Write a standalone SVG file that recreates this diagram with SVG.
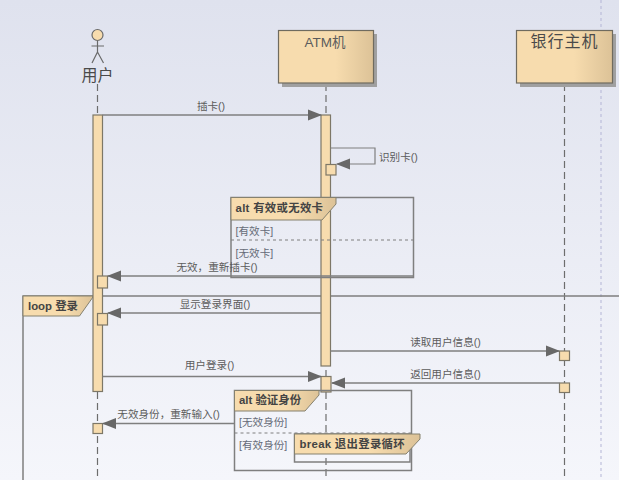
<svg xmlns="http://www.w3.org/2000/svg" width="619" height="480" viewBox="0 0 619 480">
<defs>
<linearGradient id="bg" x1="0" y1="0" x2="0" y2="1"><stop offset="0" stop-color="#dfe2ee"/><stop offset="1" stop-color="#f5f6fb"/></linearGradient>
<linearGradient id="box" x1="0" y1="0" x2="1" y2="0"><stop offset="0" stop-color="#f7dcae"/><stop offset="0.6" stop-color="#f7dcae"/><stop offset="1" stop-color="#dcc297"/></linearGradient>
<marker id="ah" markerUnits="userSpaceOnUse" markerWidth="14" markerHeight="12" refX="13" refY="6" orient="auto"><path d="M0 0.500L14 6L0 11.500Z" fill="#686868"/></marker>
</defs>
<style>
text{font-family:"Liberation Sans","Noto Sans CJK SC",sans-serif;fill:#5c5c5c}
.m{font-size:10.600px;text-anchor:middle}
.g{font-size:10.600px;fill:#666b78}
.f{font-size:11.400px;font-weight:bold;fill:#444}
.h{font-size:16px;fill:#4a4a4a}
.ll{fill:none;stroke:#6d6d6d;stroke-width:1.200;stroke-dasharray:7 4}
.a{fill:#f7dcae;stroke:#7d7767;stroke-width:1.200}
.msg{fill:none;stroke:#7f7f7f;stroke-width:1.500;marker-end:url(#ah)}
.fr{fill:none;stroke:#7f7f7f;stroke-width:1.500}
.tab{fill:url(#box);stroke:#85816f;stroke-width:1}
.sh{fill:#a0a0a0}
.b{fill:url(#box);stroke:#6f6b5f;stroke-width:1.200}
</style>
<rect width="619" height="480" fill="url(#bg)"/>
<line x1="601" y1="0" x2="601" y2="480" stroke="#b4b5d6" stroke-width="1" stroke-dasharray="3 3"/>

<g id="lifelines">
<line class="ll" x1="97.500" y1="84" x2="97.500" y2="480"/>
<line class="ll" x1="326" y1="84" x2="326" y2="480"/>
<line class="ll" x1="564.500" y1="84" x2="564.500" y2="480"/>
</g>

<g id="user">
<circle cx="97.500" cy="35" r="5.500" fill="#f7dcae" stroke="#6a6a6a" stroke-width="1.200"/>
<path d="M97.500 41V52M91.500 46H104M97.500 52L92 63M97.500 52L103.500 63" fill="none" stroke="#6a6a6a" stroke-width="1.200"/>
<text class="h" x="97.500" y="81" text-anchor="middle">用户</text>
</g>
<g id="atm">
<rect class="sh" x="282" y="34" width="95" height="53"/>
<rect class="b" x="278.500" y="30.500" width="95" height="52.500"/>
<text x="325" y="47" text-anchor="middle" font-size="13.500">ATM机</text>
</g>
<g id="bank">
<rect class="sh" x="520" y="34" width="96" height="53"/>
<rect class="b" x="516.500" y="30.500" width="96" height="52.500"/>
<text class="h" x="564.500" y="47" text-anchor="middle" letter-spacing="1">银行主机</text>
</g>

<g id="loop-frame">
<path class="fr" d="M23 480V296H619"/>
<path class="tab" d="M23 296H93V297L79.500 316H23Z"/>
<text class="f" x="28" y="310">loop 登录</text>
</g>

<g id="user-activation">
<rect class="a" x="93" y="115" width="9.500" height="276.500"/>
<rect class="a" x="97.500" y="276" width="10" height="12"/>
<rect class="a" x="97.500" y="313.500" width="10" height="11.500"/>
<rect class="a" x="93" y="423.500" width="9.500" height="10"/>
</g>
<g id="atm-activation">
<rect class="a" x="321" y="115" width="9.500" height="251"/>
<rect class="a" x="326" y="164.500" width="10" height="10.500"/>
<rect class="a" x="321" y="376.500" width="10" height="15.500"/>
</g>
<g id="bank-activation">
<rect class="a" x="559.500" y="351" width="10" height="9.500"/>
<rect class="a" x="559.500" y="383" width="10" height="9.500"/>
</g>

<g id="alt-card">
<path class="fr" d="M231 197.500H413.500V277.500H231Z"/>
<path class="tab" d="M231 197.500H336V204L322 220H231Z"/>
<line x1="231" y1="240" x2="413.500" y2="240" stroke="#7f7f7f" stroke-dasharray="3 3"/>
<text class="f" x="235.500" y="212" letter-spacing="0.300">alt 有效或无效卡</text>
<text class="g" x="235.500" y="235">[有效卡]</text>
<text class="g" x="235.500" y="257">[无效卡]</text>
</g>

<g id="connectors">
<path class="msg" d="M102.500 115H321"/>
<path d="M330.500 148H375V164H337" fill="none" stroke="#7f7f7f" stroke-width="1.200" marker-end="url(#ah)"/>
<path class="msg" d="M413 276H108"/>
<path class="msg" d="M321 313H108"/>
<path class="msg" d="M330.500 351H559"/>
<path class="msg" d="M102.500 376.500H321"/>
<path class="msg" d="M559.500 383H332"/>
<path class="msg" d="M234 423.500H103"/>
</g>

<g id="labels">
<text class="m" x="211" y="110">插卡()</text>
<text x="379" y="161" font-size="10.600">识别卡()</text>
<text class="m" x="217" y="271">无效，重新插卡()</text>
<text class="m" x="215" y="308">显示登录界面()</text>
<text class="m" x="445.500" y="346">读取用户信息()</text>
<text class="m" x="209.500" y="369">用户登录()</text>
<text class="m" x="445.500" y="378">返回用户信息()</text>
<text class="m" x="168.500" y="418">无效身份，重新输入()</text>
</g>

<g id="alt-auth">
<path class="fr" d="M234.500 390.500H411.500V470.500H234.500Z"/>
<path class="tab" d="M234.500 390.500H319V395L305 411H234.500Z"/>
<line x1="234.500" y1="433" x2="411.500" y2="433" stroke="#7f7f7f" stroke-dasharray="3 3"/>
<text class="f" x="239" y="404">alt 验证身份</text>
<text class="g" x="239" y="426">[无效身份]</text>
<text class="g" x="239" y="449">[有效身份]</text>
</g>

<g id="break">
<path class="fr" d="M294.500 434H410V462H294.500Z"/>
<path class="tab" d="M294.500 434H420V439L406 454H294.500Z"/>
<text class="f" x="299.500" y="448" letter-spacing="0.300">break 退出登录循环</text>
</g>
</svg>
